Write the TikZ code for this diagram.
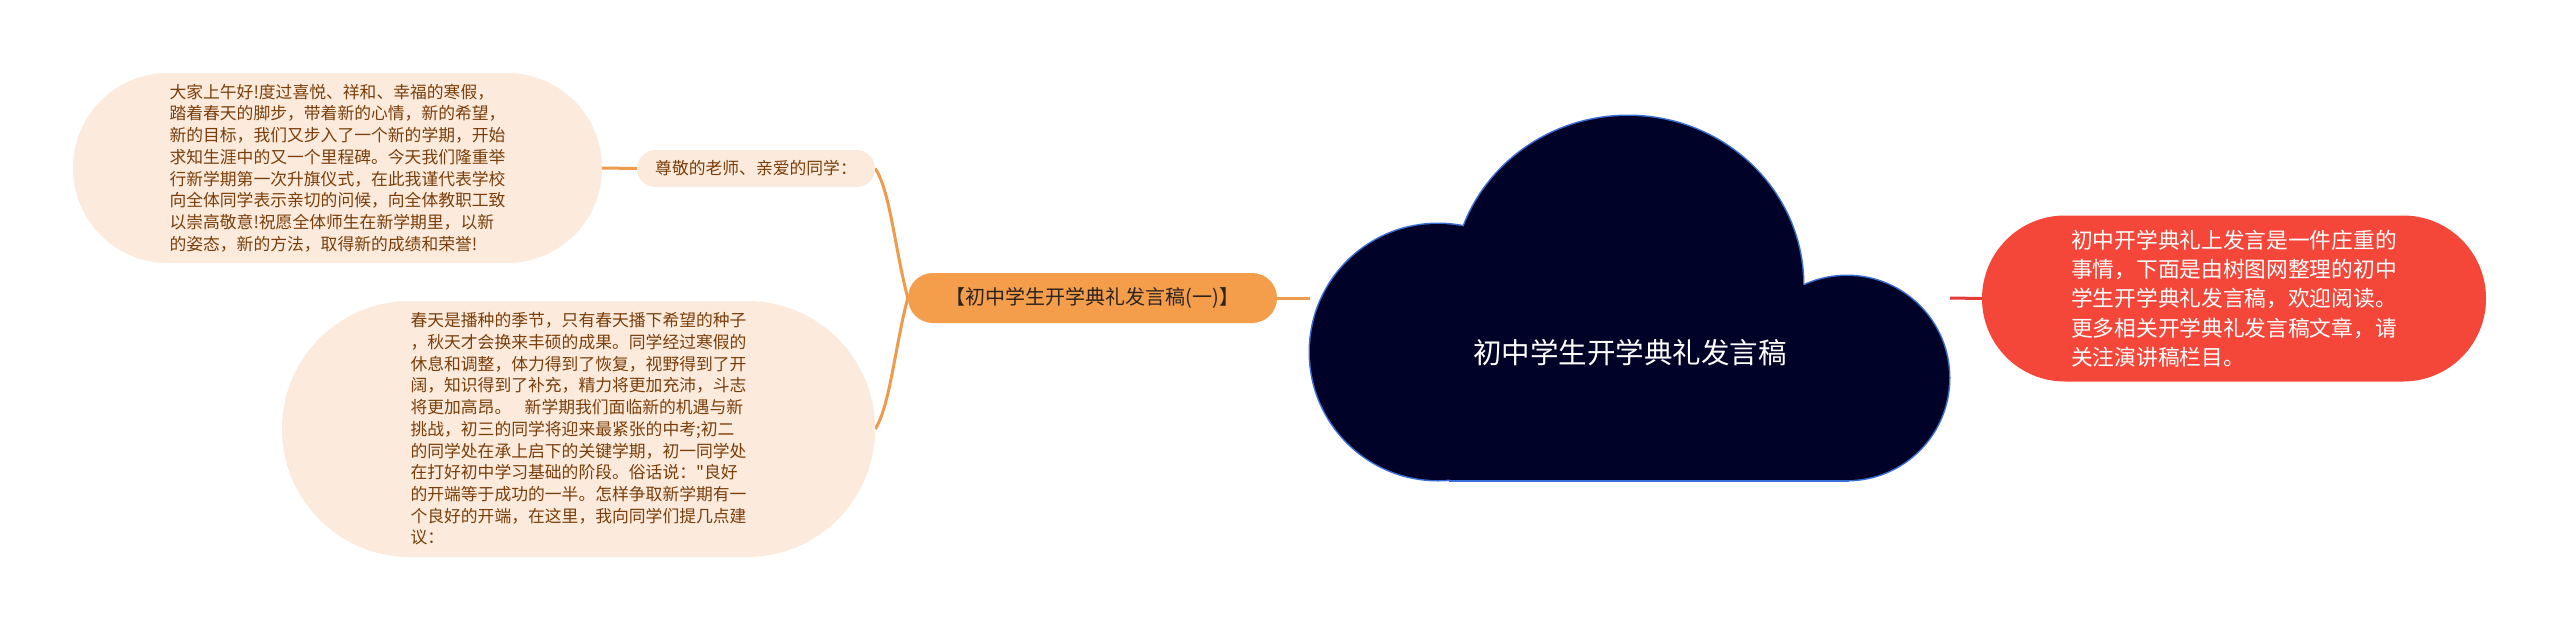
\documentclass[tikz,border=0pt]{standalone}
\usepackage{fontspec}
\setmainfont{Noto Sans CJK SC}
\newfontfamily\qfont{Noto Sans CJK SC}
\usetikzlibrary{backgrounds}
\definecolor{peach}{RGB}{252,235,220}
\definecolor{brownt}{RGB}{122,62,10}
\definecolor{orangeb}{RGB}{244,158,76}
\definecolor{orangel}{RGB}{238,155,78}
\definecolor{darkt}{RGB}{45,35,30}
\definecolor{redb}{RGB}{245,70,58}
\definecolor{redl}{RGB}{228,60,55}
\definecolor{navy}{RGB}{0,2,40}
\definecolor{cloudedge}{RGB}{58,110,215}
\tikzset{
  pill/.style={rectangle, inner sep=0pt, align=left},
  leafbox/.style={pill, fill=peach, text=brownt, font=\fontsize{16.8pt}{21.7pt}\selectfont},
  conn/.style={draw=orangel, line width=3pt},
  redconn/.style={draw=redl, line width=3pt},
  cloudline/.style={draw=cloudedge, line width=3pt},
  cloudfill/.style={fill=navy},
}
\begin{document}
\begin{tikzpicture}[x=1pt,y=-1pt]
\useasboundingbox (0,0) rectangle (2560,630);

% leaf nodes
\node[leafbox, minimum width=529pt, minimum height=190pt, rounded corners=94.9pt] (n1) at (337.5,168) {%
大家上午好!度过喜悦、祥和、幸福的寒假，\\
踏着春天的脚步，带着新的心情，新的希望，\\
新的目标，我们又步入了一个新的学期，开始\\
求知生涯中的又一个里程碑。今天我们隆重举\\
行新学期第一次升旗仪式，在此我谨代表学校\\
向全体同学表示亲切的问候，向全体教职工致\\
以崇高敬意!祝愿全体师生在新学期里，以新\\
的姿态，新的方法，取得新的成绩和荣誉!};

\node[leafbox, minimum width=238pt, minimum height=37pt, rounded corners=18.4pt] (n2) at (756,168.5) {尊敬的老师、亲爱的同学：};

\node[leafbox, minimum width=593pt, minimum height=256pt, rounded corners=127.9pt] (n3) at (578.5,429) {%
春天是播种的季节，只有春天播下希望的种子\\
，秋天才会换来丰硕的成果。同学经过寒假的\\
休息和调整，体力得到了恢复，视野得到了开\\
阔，知识得到了补充，精力将更加充沛，斗志\\
将更加高昂。\hspace{0.8em}新学期我们面临新的机遇与新\\
挑战，初三的同学将迎来最紧张的中考;初二\\
的同学处在承上启下的关键学期，初一同学处\\
在打好初中学习基础的阶段。俗话说：{\qfont "}良好\\
的开端等于成功的一半。怎样争取新学期有一\\
个良好的开端，在这里，我向同学们提几点建\\
议：};

\node[pill, fill=orangeb, text=darkt, minimum width=369pt, minimum height=50pt, rounded corners=24.9pt, font=\fontsize{20pt}{24pt}\selectfont] (n4) at (1092.5,298) {【初中学生开学典礼发言稿(一)】};

\node[pill, fill=redb, text=white, minimum width=504pt, minimum height=166pt, rounded corners=82.9pt, font=\fontsize{21.7pt}{29.2pt}\selectfont] (red) at (2234,298.5) {%
初中开学典礼上发言是一件庄重的\\
事情，下面是由树图网整理的初中\\
学生开学典礼发言稿，欢迎阅读。\\
更多相关开学典礼发言稿文章，请\\
关注演讲稿栏目。};

% cloud
\draw[cloudline] (1438,352) ellipse [x radius=128pt, y radius=128pt];
\draw[cloudline] (1628,285) ellipse [x radius=175pt, y radius=169pt];
\draw[cloudline] (1847,378) circle [radius=102pt];
\draw[cloudline] (1450,285) rectangle (1847,480);
\fill[cloudfill] (1438,352) ellipse [x radius=128pt, y radius=128pt];
\fill[cloudfill] (1628,285) ellipse [x radius=175pt, y radius=169pt];
\fill[cloudfill] (1847,378) circle [radius=102pt];
\fill[cloudfill] (1450,285) rectangle (1847,480);
\node[text=white, inner sep=0pt, font=\fontsize{28.5pt}{34pt}\selectfont] (cloud) at (1630,353) {初中学生开学典礼发言稿};
\coordinate (cloudW) at (1310,298);
\coordinate (cloudE) at (1950,298);

\begin{scope}[on background layer]
\fill[white] (0,0) rectangle (2560,630);
\draw[conn] (n1.east) -- (n2.west);
\draw[conn] (n4.west) .. controls (895,250) and (890,190) .. (n2.east);
\draw[conn] (n4.west) .. controls (895,346) and (890,406) .. (n3.east);
\draw[conn] (n4.east) -- (cloudW);
\draw[redconn] (cloudE) -- (red.west);
\end{scope}
\end{tikzpicture}
\end{document}
